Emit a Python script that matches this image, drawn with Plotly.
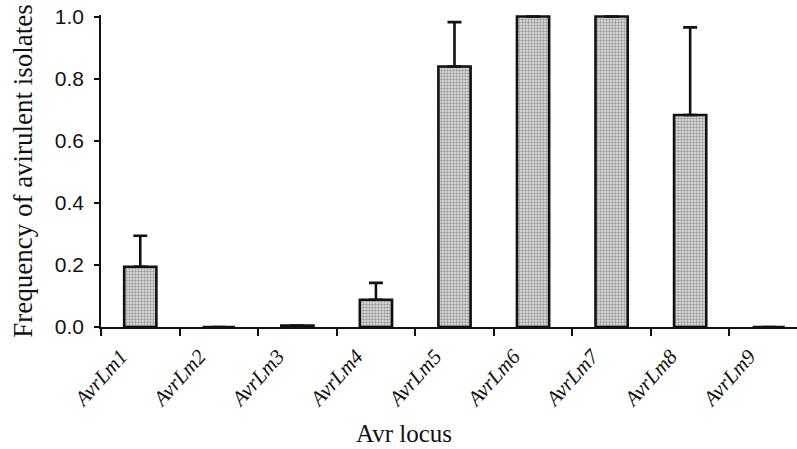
import plotly.graph_objects as go

# Avirulence loci and the frequency of avirulent isolates (mean and upper error)
loci = ["AvrLm1", "AvrLm2", "AvrLm3", "AvrLm4", "AvrLm5",
        "AvrLm6", "AvrLm7", "AvrLm8", "AvrLm9"]
frequency = [0.194, 0.0, 0.005, 0.088, 0.839, 1.0, 1.0, 0.683, 0.0]
error_up = [0.100, 0.0, 0.0, 0.054, 0.143, 0.0, 0.0, 0.282, 0.0]
error_down = [0.0] * len(loci)

y_ticks = [0.0, 0.2, 0.4, 0.6, 0.8, 1.0]
y_tick_text = ["0.0", "0.2", "0.4", "0.6", "0.8", "1.0"]

# one slot per locus; rotated labels sit a little left of each slot centre
positions = list(range(len(loci)))
label_shift = 0.25
label_positions = [p - label_shift for p in positions]

fig = go.Figure()
fig.add_trace(go.Bar(
    x=positions,
    y=frequency,
    width=0.41,
    marker=dict(
        color="#c4c4c4",
        line=dict(color="#111111", width=2.6),
        pattern=dict(shape=".", size=3, solidity=0.5,
                     fgcolor="#555555", bgcolor="#e2e2e2"),
    ),
    error_y=dict(
        type="data",
        symmetric=False,
        array=error_up,
        arrayminus=error_down,
        color="#111111",
        thickness=2.6,
        width=7,
    ),
    showlegend=False,
))

fig.update_layout(
    width=797,
    height=449,
    margin=dict(l=101, r=0, t=15, b=122),
    paper_bgcolor="white",
    plot_bgcolor="white",
    font=dict(family="Liberation Serif", color="#111111"),
    xaxis=dict(
        range=[-0.5, 8.36],
        showline=True,
        linecolor="#111111",
        linewidth=1.6,
        tickmode="array",
        tickvals=label_positions,
        ticktext=[f"<i>{name}</i>" for name in loci],
        ticks="outside",
        ticklen=7,
        tickcolor="rgba(0,0,0,0)",
        tickangle=-48,
        tickfont=dict(family="Liberation Serif", size=21, color="#111111"),
        ticklabelstandoff=0,
        minor=dict(
            tick0=-0.5,
            dtick=1,
            ticks="outside",
            ticklen=7,
            tickwidth=1.6,
            tickcolor="#111111",
            showgrid=False,
        ),
        showgrid=False,
        zeroline=False,
    ),
    yaxis=dict(
        range=[0, 1.005],
        tickmode="array",
        tickvals=y_ticks,
        ticktext=y_tick_text,
        showline=True,
        linecolor="#111111",
        linewidth=1.6,
        ticks="outside",
        ticklen=5,
        tickwidth=1.6,
        tickcolor="#111111",
        tickfont=dict(family="Liberation Sans", size=21, color="#111111"),
        ticklabelstandoff=6,
        showgrid=False,
        zeroline=False,
        title=dict(text="Frequency of avirulent isolates",
                   font=dict(family="Liberation Serif", size=27, color="#111111"),
                   standoff=14),
    ),
    annotations=[dict(
        text="Avr locus",
        xref="paper", yref="paper",
        x=(404 - 101) / 696, y=-(433 - 327) / 312,
        xanchor="center", yanchor="middle",
        showarrow=False,
        font=dict(family="Liberation Serif", size=25, color="#111111"),
    )],
)

fig.write_html("out.html")
